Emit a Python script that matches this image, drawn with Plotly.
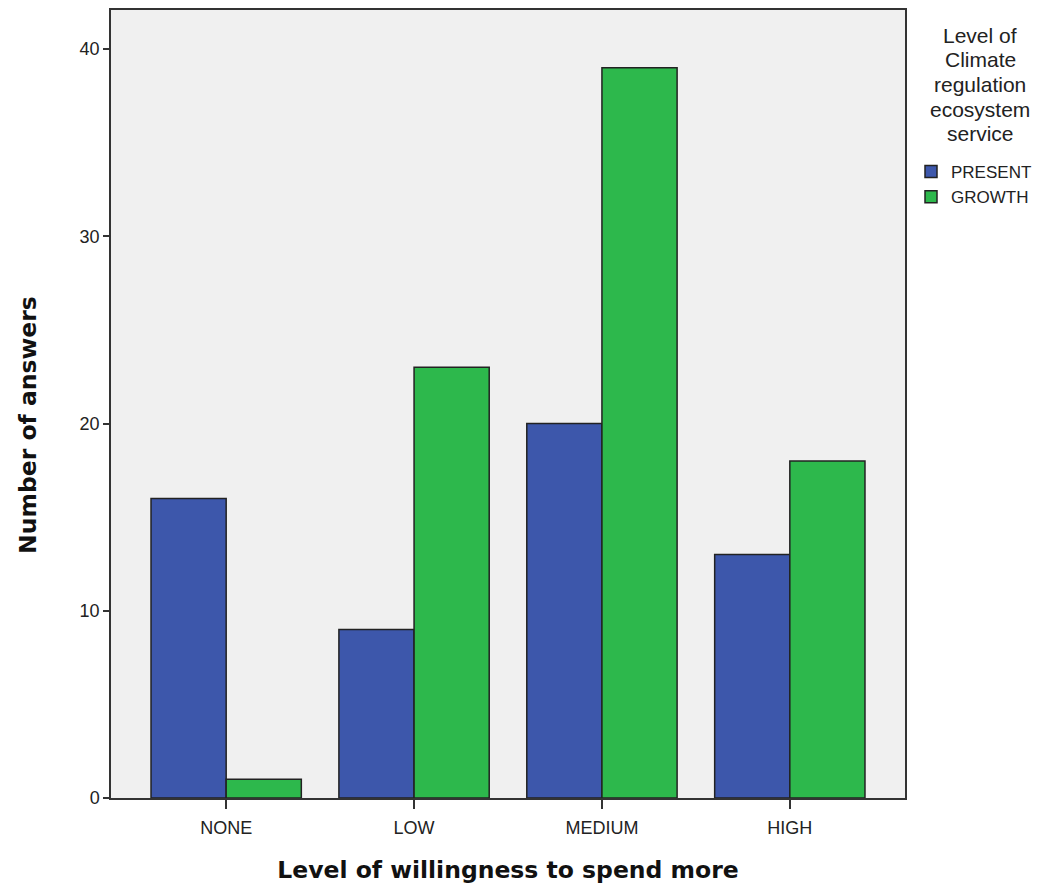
import plotly.graph_objects as go

# Survey counts by willingness level
categories = ["NONE", "LOW", "MEDIUM", "HIGH"]
present = [16, 9, 20, 13]
growth = [1, 23, 39, 18]
y_ticks = [0, 10, 20, 30, 40]
legend_title_lines = ["Level of", "Climate", "regulation", "ecosystem", "service"]

AXIS_FONT = "Liberation Sans, Arial, sans-serif"
TITLE_FONT = "DejaVu Sans, Verdana, sans-serif"

fig = go.Figure()
fig.add_trace(go.Bar(
    x=categories, y=present, name="PRESENT", legendgroup="present",
    marker=dict(color="#3D57AB", line=dict(color="#222222", width=1.5)),
))
fig.add_trace(go.Bar(
    x=categories, y=growth, name="GROWTH", legendgroup="growth",
    marker=dict(color="#2DB84C", line=dict(color="#222222", width=1.5)),
))

# plot area in pixels: x 111..905, y 10..798
left_px, right_px = 111, 905
top_px, bottom_px = 10, 798
def paper_y(py):
    return (bottom_px - py) / (bottom_px - top_px)
def paper_x(px):
    return (px - left_px) / (right_px - left_px)

# legend heading, one line per annotation for tight line spacing
annotations = []
for i, line in enumerate(legend_title_lines):
    annotations.append(dict(
        text=line, xref="paper", yref="paper",
        x=paper_x(980), y=paper_y(35 + i * 24.7), xanchor="center", yanchor="middle",
        showarrow=False, font=dict(family=AXIS_FONT, size=21, color="#222222"),
    ))

# vertical axis title, sitting slightly below the plot's mid-height
annotations.append(dict(
    text="<b>Number of answers</b>", xref="paper", yref="paper",
    x=paper_x(28), y=paper_y(425), xanchor="center", yanchor="middle",
    textangle=-90, showarrow=False,
    font=dict(family=TITLE_FONT, size=23.5, color="#111111"),
))

fig.update_layout(
    width=1048, height=890,
    margin=dict(l=left_px, r=1048 - right_px, t=top_px, b=890 - bottom_px, autoexpand=False),
    paper_bgcolor="white",
    plot_bgcolor="#F0F0F0",
    barmode="group",
    bargap=0.2,
    bargroupgap=0,
    font=dict(family=AXIS_FONT, color="#222222", size=18),
    annotations=annotations,
    legend=dict(
        x=paper_x(911), xanchor="left", y=paper_y(154), yanchor="top",
        font=dict(size=17, family=AXIS_FONT, color="#222222"),
        traceorder="grouped",
        tracegroupgap=0,
        itemwidth=30,
        bgcolor="rgba(0,0,0,0)",
    ),
)

fig.update_xaxes(
    range=[-0.613, 3.613],
    showline=True, linecolor="#333333", linewidth=1.5, mirror=True,
    ticks="outside", ticklen=9, tickcolor="#333333", tickwidth=1.5,
    tickfont=dict(size=18),
    ticklabelstandoff=4,
    title=dict(
        text="<b>Level of willingness to spend more</b>",
        font=dict(family=TITLE_FONT, size=23.5, color="#111111"),
        standoff=24,
    ),
    showgrid=False,
)
fig.update_yaxes(
    range=[0, (bottom_px - top_px) / 18.725],
    tickvals=y_ticks,
    showline=True, linecolor="#333333", linewidth=1.5, mirror=True,
    ticks="outside", ticklen=6, tickcolor="#333333", tickwidth=1.5,
    tickfont=dict(size=18),
    showgrid=False, zeroline=False,
)

fig.write_html("out.html")
